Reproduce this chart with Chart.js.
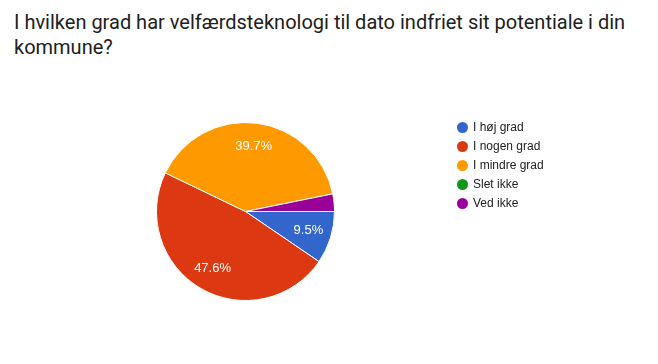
<!DOCTYPE html>
<html>
<head>
<meta charset="utf-8">
<script src="https://cdn.jsdelivr.net/npm/chart.js@4"></script>
<style>
  html, body { margin: 0; padding: 0; background: #fff; }
  body { width: 658px; height: 364px; position: relative; overflow: hidden; }
  #title {
    position: absolute; left: 14px; top: 10px; width: 630px;
    font-family: Roboto, Arial, sans-serif; font-size: 20px; line-height: 25px;
    color: #212121;
  }
  #wrap { position: absolute; left: 0; top: 0; width: 658px; height: 364px; }
  #legend { position: absolute; left: 457px; top: 118px; margin: 0; padding: 0; list-style: none;
    font-family: Arial, "Liberation Sans", sans-serif; font-size: 12px; color: #222; }
  #legend li { height: 19px; line-height: 18px; white-space: nowrap; }
  #legend span.dot { display: inline-block; width: 11px; height: 11px; border-radius: 50%;
    vertical-align: -2px; margin-right: 5px; }
</style>
</head>
<body>
<div id="title">I hvilken grad har velfærdsteknologi til dato indfriet sit potentiale i din kommune?</div>
<div id="wrap"><canvas id="pie" width="658" height="364"></canvas></div>
<ul id="legend"></ul>
<script>
// answer categories and counts (63 responses)
const labels = ['I høj grad', 'I nogen grad', 'I mindre grad', 'Slet ikke', 'Ved ikke'];
const counts = [6, 30, 25, 0, 2];
const colors = ['#3366cc', '#dc3912', '#ff9900', '#109618', '#990099'];

const total = counts.reduce((a, b) => a + b, 0);

// percentage labels inside slices
const sliceLabels = {
  id: 'sliceLabels',
  afterDatasetsDraw(chart) {
    const ctx = chart.ctx;
    const meta = chart.getDatasetMeta(0);
    ctx.save();
    ctx.fillStyle = '#ffffff';
    ctx.font = '13px Arial, "Liberation Sans", sans-serif';
    ctx.textAlign = 'center';
    ctx.textBaseline = 'middle';
    meta.data.forEach((arc, i) => {
      const pct = counts[i] / total * 100;
      if (pct < 5) return;
      const p = arc.getProps(['x', 'y', 'startAngle', 'endAngle', 'outerRadius'], true);
      const mid = (p.startAngle + p.endAngle) / 2;
      const r = p.outerRadius * 0.74;
      ctx.fillText(pct.toFixed(1) + '%', p.x + Math.cos(mid) * r, p.y + Math.sin(mid) * r);
    });
    ctx.restore();
  }
};

new Chart(document.getElementById('pie'), {
  type: 'pie',
  data: {
    labels: labels,
    datasets: [{
      data: counts,
      backgroundColor: colors,
      borderColor: '#ffffff',
      borderWidth: 1
    }]
  },
  options: {
    responsive: false,
    animation: false,
    rotation: 90,
    layout: { padding: { left: 156, right: 323, top: 122, bottom: 63 } },
    plugins: { legend: { display: false }, tooltip: { enabled: false } }
  },
  plugins: [sliceLabels]
});

// legend list
const legendEl = document.getElementById('legend');
labels.forEach((l, i) => {
  const li = document.createElement('li');
  const dot = document.createElement('span');
  dot.className = 'dot';
  dot.style.background = colors[i];
  li.appendChild(dot);
  li.appendChild(document.createTextNode(l));
  legendEl.appendChild(li);
});
</script>
</body>
</html>
